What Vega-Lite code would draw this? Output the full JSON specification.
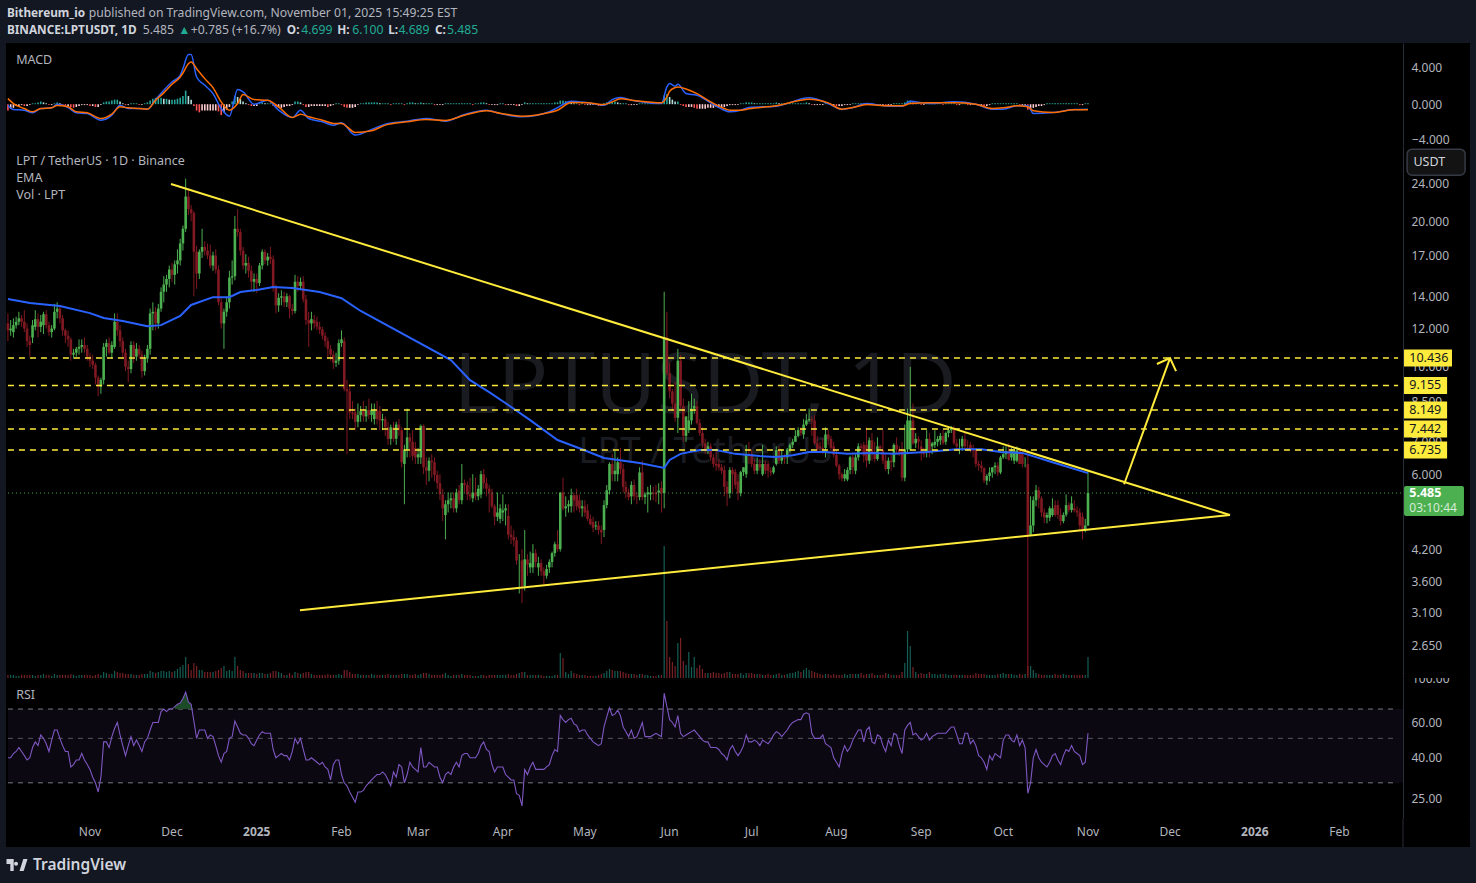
{
"$schema":"https://vega.github.io/schema/vega-lite/v6.json",
"background":"#131722",
"padding":{"left":3,"right":6,"top":0,"bottom":0},
"spacing":0,
"bounds":"flush",
"config":{"view":{"stroke":null},"font":"Noto Sans","axis":{"grid":false,"labelFont":"Noto Sans","labelFontSize":12,"labelColor":"#b2b5be","ticks":false,"title":null},"text":{"font":"Noto Sans","fontSize":12}},
"datasets":{
"daily":[
{"d":"2024-10-02","o":12.3,"h":12.9,"l":11.3,"c":11.9,"v":3,"b":-0.7,"r":40},
{"d":"2024-10-03","o":11.9,"h":12.5,"l":11.6,"c":12.0,"v":3,"b":-0.5,"r":40},
{"d":"2024-10-04","o":11.8,"h":12.6,"l":11.5,"c":12.2,"v":3,"b":-0.4,"r":42},
{"d":"2024-10-05","o":12.2,"h":12.7,"l":12.0,"c":12.4,"v":2,"b":-0.2,"r":43},
{"d":"2024-10-06","o":12.4,"h":13.0,"l":12.2,"c":12.6,"v":2,"b":-0.2,"r":45},
{"d":"2024-10-07","o":12.6,"h":12.8,"l":12.1,"c":12.4,"v":3,"b":-0.1,"r":43},
{"d":"2024-10-08","o":12.4,"h":13.1,"l":11.8,"c":12.0,"v":3,"b":-0.2,"r":41},
{"d":"2024-10-09","o":12.0,"h":12.3,"l":11.0,"c":11.3,"v":3,"b":-0.2,"r":39},
{"d":"2024-10-10","o":11.3,"h":11.6,"l":10.5,"c":11.1,"v":3,"b":-0.1,"r":40},
{"d":"2024-10-11","o":11.5,"h":12.5,"l":11.2,"c":12.2,"v":3,"b":0.1,"r":45},
{"d":"2024-10-12","o":12.1,"h":13.1,"l":11.9,"c":12.55,"v":2,"b":0.1,"r":48},
{"d":"2024-10-13","o":12.55,"h":12.9,"l":11.5,"c":12.1,"v":3,"b":0.2,"r":46},
{"d":"2024-10-14","o":12.1,"h":12.8,"l":11.8,"c":12.4,"v":3,"b":0.3,"r":52},
{"d":"2024-10-15","o":12.2,"h":13.0,"l":11.7,"c":12.85,"v":4,"b":0.2,"r":50},
{"d":"2024-10-16","o":12.85,"h":13.1,"l":12.0,"c":12.2,"v":3,"b":0.1,"r":47},
{"d":"2024-10-17","o":12.2,"h":12.4,"l":11.6,"c":11.8,"v":3,"b":-0.1,"r":43},
{"d":"2024-10-18","o":11.8,"h":12.2,"l":11.5,"c":12.0,"v":2,"b":-0.1,"r":49},
{"d":"2024-10-19","o":12.0,"h":13.5,"l":11.9,"c":13.0,"v":4,"b":0.1,"r":55},
{"d":"2024-10-20","o":13.0,"h":13.6,"l":12.6,"c":13.2,"v":3,"b":0.2,"r":55},
{"d":"2024-10-21","o":13.2,"h":13.4,"l":12.3,"c":12.6,"v":3,"b":0.1,"r":50},
{"d":"2024-10-22","o":12.6,"h":12.8,"l":11.6,"c":11.9,"v":3,"b":-0.1,"r":46},
{"d":"2024-10-23","o":11.9,"h":12.0,"l":11.2,"c":11.6,"v":3,"b":-0.2,"r":43},
{"d":"2024-10-24","o":11.6,"h":11.9,"l":11.0,"c":11.4,"v":3,"b":-0.2,"r":43},
{"d":"2024-10-25","o":11.4,"h":11.5,"l":10.3,"c":10.6,"v":4,"b":-0.3,"r":36},
{"d":"2024-10-26","o":10.6,"h":10.9,"l":10.4,"c":10.7,"v":3,"b":-0.4,"r":37},
{"d":"2024-10-27","o":10.7,"h":11.0,"l":10.5,"c":10.9,"v":2,"b":-0.3,"r":39},
{"d":"2024-10-28","o":10.9,"h":11.4,"l":10.6,"c":11.0,"v":3,"b":-0.2,"r":39},
{"d":"2024-10-29","o":11.0,"h":11.4,"l":10.7,"c":11.1,"v":3,"b":-0.1,"r":42},
{"d":"2024-10-30","o":11.1,"h":11.5,"l":10.7,"c":10.9,"v":3,"b":-0.1,"r":39},
{"d":"2024-10-31","o":10.9,"h":11.1,"l":10.3,"c":10.5,"v":3,"b":-0.1,"r":37},
{"d":"2024-11-01","o":10.5,"h":10.7,"l":10.0,"c":10.3,"v":3,"b":-0.2,"r":35},
{"d":"2024-11-02","o":10.3,"h":10.6,"l":9.9,"c":10.1,"v":2,"b":-0.2,"r":32},
{"d":"2024-11-03","o":10.1,"h":10.2,"l":9.2,"c":9.5,"v":3,"b":-0.3,"r":30},
{"d":"2024-11-04","o":9.5,"h":9.6,"l":8.7,"c":9.1,"v":4,"b":-0.3,"r":27},
{"d":"2024-11-05","o":9.1,"h":9.5,"l":8.8,"c":9.4,"v":3,"b":-0.1,"r":32},
{"d":"2024-11-06","o":9.4,"h":11.2,"l":9.2,"c":11.0,"v":6,"b":0.2,"r":48},
{"d":"2024-11-07","o":11.0,"h":11.4,"l":10.5,"c":11.2,"v":5,"b":0.3,"r":48},
{"d":"2024-11-08","o":11.2,"h":11.5,"l":10.6,"c":10.7,"v":4,"b":0.3,"r":45},
{"d":"2024-11-09","o":10.7,"h":11.3,"l":10.4,"c":11.1,"v":4,"b":0.4,"r":51},
{"d":"2024-11-10","o":11.0,"h":12.9,"l":10.9,"c":12.4,"v":7,"b":0.5,"r":56},
{"d":"2024-11-11","o":12.4,"h":12.9,"l":11.6,"c":11.9,"v":6,"b":0.5,"r":60},
{"d":"2024-11-12","o":11.9,"h":12.2,"l":11.0,"c":11.3,"v":5,"b":0.3,"r":52},
{"d":"2024-11-13","o":11.3,"h":11.5,"l":10.4,"c":10.7,"v":5,"b":0.1,"r":46},
{"d":"2024-11-14","o":10.7,"h":10.9,"l":9.8,"c":10.0,"v":4,"b":-0.1,"r":41},
{"d":"2024-11-15","o":10.0,"h":10.3,"l":9.3,"c":9.9,"v":4,"b":-0.1,"r":46},
{"d":"2024-11-16","o":9.9,"h":11.3,"l":9.7,"c":11.1,"v":4,"b":0.1,"r":51},
{"d":"2024-11-17","o":11.1,"h":11.3,"l":10.2,"c":10.5,"v":3,"b":0.1,"r":46},
{"d":"2024-11-18","o":10.5,"h":11.2,"l":10.3,"c":10.9,"v":3,"b":0.1,"r":49},
{"d":"2024-11-19","o":10.9,"h":11.1,"l":10.4,"c":10.6,"v":3,"b":-0.1,"r":46},
{"d":"2024-11-20","o":10.6,"h":10.8,"l":9.5,"c":9.8,"v":4,"b":-0.1,"r":43},
{"d":"2024-11-21","o":9.8,"h":10.6,"l":9.6,"c":10.4,"v":4,"b":0.1,"r":48},
{"d":"2024-11-22","o":10.4,"h":11.1,"l":10.2,"c":10.9,"v":4,"b":0.2,"r":50},
{"d":"2024-11-23","o":10.9,"h":13.2,"l":10.6,"c":12.9,"v":7,"b":0.4,"r":55},
{"d":"2024-11-24","o":12.9,"h":13.6,"l":11.9,"c":13.0,"v":6,"b":0.6,"r":60},
{"d":"2024-11-25","o":13.0,"h":13.3,"l":11.9,"c":12.3,"v":5,"b":0.7,"r":60},
{"d":"2024-11-26","o":12.3,"h":13.5,"l":12.0,"c":13.2,"v":6,"b":0.7,"r":60},
{"d":"2024-11-27","o":13.2,"h":14.6,"l":13.0,"c":14.3,"v":7,"b":0.7,"r":68},
{"d":"2024-11-28","o":14.3,"h":15.4,"l":13.6,"c":14.8,"v":7,"b":0.6,"r":70},
{"d":"2024-11-29","o":14.8,"h":15.5,"l":14.3,"c":15.2,"v":6,"b":0.6,"r":68},
{"d":"2024-11-30","o":15.2,"h":16.2,"l":14.6,"c":15.9,"v":7,"b":0.5,"r":70},
{"d":"2024-12-01","o":15.9,"h":16.4,"l":15.0,"c":15.5,"v":6,"b":0.5,"r":70},
{"d":"2024-12-02","o":15.5,"h":16.6,"l":14.8,"c":16.3,"v":7,"b":0.5,"r":72},
{"d":"2024-12-03","o":16.3,"h":17.5,"l":15.6,"c":16.6,"v":9,"b":0.6,"r":74},
{"d":"2024-12-04","o":16.6,"h":18.4,"l":16.2,"c":18.0,"v":11,"b":0.7,"r":75},
{"d":"2024-12-05","o":18.0,"h":19.6,"l":17.4,"c":19.3,"v":13,"b":0.9,"r":79},
{"d":"2024-12-06","o":19.3,"h":24.5,"l":19.0,"c":22.5,"v":21,"b":1.5,"r":85},
{"d":"2024-12-07","o":22.5,"h":23.2,"l":20.6,"c":21.2,"v":14,"b":0.9,"r":76},
{"d":"2024-12-08","o":21.2,"h":21.6,"l":20.0,"c":20.8,"v":8,"b":0.5,"r":74},
{"d":"2024-12-09","o":20.8,"h":21.0,"l":14.0,"c":17.3,"v":15,"b":-0.2,"r":61},
{"d":"2024-12-10","o":17.3,"h":17.8,"l":14.5,"c":15.6,"v":12,"b":-0.7,"r":50},
{"d":"2024-12-11","o":15.6,"h":17.5,"l":15.2,"c":17.3,"v":8,"b":-0.9,"r":55},
{"d":"2024-12-12","o":17.3,"h":19.3,"l":16.8,"c":17.7,"v":8,"b":-0.7,"r":55},
{"d":"2024-12-13","o":17.7,"h":18.2,"l":17.0,"c":17.4,"v":6,"b":-0.7,"r":55},
{"d":"2024-12-14","o":17.4,"h":18.0,"l":16.7,"c":17.0,"v":6,"b":-0.7,"r":50},
{"d":"2024-12-15","o":17.0,"h":17.9,"l":16.0,"c":16.2,"v":6,"b":-0.7,"r":52},
{"d":"2024-12-16","o":16.2,"h":17.3,"l":15.8,"c":17.0,"v":6,"b":-0.7,"r":51},
{"d":"2024-12-17","o":17.0,"h":17.5,"l":15.6,"c":15.9,"v":7,"b":-0.7,"r":46},
{"d":"2024-12-18","o":15.9,"h":16.2,"l":13.4,"c":13.6,"v":8,"b":-0.8,"r":41},
{"d":"2024-12-19","o":13.6,"h":13.9,"l":12.0,"c":12.3,"v":10,"b":-1.2,"r":38},
{"d":"2024-12-20","o":12.3,"h":13.2,"l":10.9,"c":13.0,"v":12,"b":-0.9,"r":42},
{"d":"2024-12-21","o":13.0,"h":14.0,"l":12.7,"c":13.6,"v":7,"b":-0.6,"r":43},
{"d":"2024-12-22","o":13.6,"h":15.8,"l":13.2,"c":15.3,"v":8,"b":-0.3,"r":50},
{"d":"2024-12-23","o":15.3,"h":16.6,"l":14.8,"c":15.4,"v":7,"b":0.3,"r":51},
{"d":"2024-12-24","o":15.4,"h":20.5,"l":15.1,"c":19.3,"v":21,"b":0.9,"r":61},
{"d":"2024-12-25","o":19.3,"h":21.2,"l":18.6,"c":19.0,"v":12,"b":0.8,"r":57},
{"d":"2024-12-26","o":19.0,"h":19.3,"l":17.0,"c":17.4,"v":8,"b":0.6,"r":53},
{"d":"2024-12-27","o":17.4,"h":17.7,"l":15.9,"c":16.2,"v":7,"b":0.3,"r":52},
{"d":"2024-12-28","o":16.2,"h":17.1,"l":15.6,"c":16.4,"v":5,"b":0.1,"r":52},
{"d":"2024-12-29","o":16.4,"h":16.9,"l":15.3,"c":15.8,"v":5,"b":-0.1,"r":50},
{"d":"2024-12-30","o":15.8,"h":16.2,"l":14.4,"c":15.0,"v":5,"b":-0.2,"r":47},
{"d":"2024-12-31","o":15.0,"h":15.6,"l":14.3,"c":15.2,"v":5,"b":-0.2,"r":46},
{"d":"2025-01-01","o":15.2,"h":15.6,"l":14.2,"c":14.9,"v":4,"b":-0.2,"r":49},
{"d":"2025-01-02","o":14.9,"h":16.4,"l":14.7,"c":16.2,"v":5,"b":0.1,"r":52},
{"d":"2025-01-03","o":16.2,"h":17.5,"l":15.9,"c":17.3,"v":5,"b":0.2,"r":54},
{"d":"2025-01-04","o":17.3,"h":17.5,"l":16.3,"c":16.6,"v":4,"b":0.1,"r":53},
{"d":"2025-01-05","o":16.6,"h":17.2,"l":16.2,"c":16.9,"v":4,"b":0.1,"r":53},
{"d":"2025-01-06","o":16.9,"h":17.7,"l":16.3,"c":16.7,"v":5,"b":0.1,"r":53},
{"d":"2025-01-07","o":16.7,"h":17.0,"l":14.3,"c":14.6,"v":7,"b":-0.2,"r":44},
{"d":"2025-01-08","o":14.6,"h":14.8,"l":12.9,"c":13.4,"v":7,"b":-0.4,"r":40},
{"d":"2025-01-09","o":13.4,"h":14.2,"l":13.0,"c":13.9,"v":6,"b":-0.4,"r":41},
{"d":"2025-01-10","o":13.9,"h":14.4,"l":13.4,"c":14.0,"v":5,"b":-0.4,"r":42},
{"d":"2025-01-11","o":14.0,"h":14.3,"l":13.3,"c":13.6,"v":3,"b":-0.3,"r":41},
{"d":"2025-01-12","o":13.6,"h":14.2,"l":13.3,"c":14.0,"v":3,"b":-0.2,"r":41},
{"d":"2025-01-13","o":14.0,"h":14.1,"l":12.6,"c":13.2,"v":5,"b":-0.2,"r":39},
{"d":"2025-01-14","o":13.2,"h":13.5,"l":12.8,"c":13.05,"v":3,"b":-0.1,"r":43},
{"d":"2025-01-15","o":13.05,"h":15.5,"l":12.9,"c":15.0,"v":6,"b":0.3,"r":50},
{"d":"2025-01-16","o":15.0,"h":15.4,"l":14.3,"c":14.7,"v":5,"b":0.3,"r":47},
{"d":"2025-01-17","o":14.7,"h":15.3,"l":14.4,"c":15.0,"v":4,"b":0.2,"r":50},
{"d":"2025-01-18","o":15.0,"h":15.4,"l":13.6,"c":13.8,"v":5,"b":-0.1,"r":44},
{"d":"2025-01-19","o":13.8,"h":14.1,"l":12.2,"c":12.5,"v":6,"b":-0.3,"r":39},
{"d":"2025-01-20","o":12.5,"h":13.0,"l":11.0,"c":12.3,"v":6,"b":-0.3,"r":39},
{"d":"2025-01-21","o":12.3,"h":13.0,"l":11.9,"c":12.55,"v":4,"b":-0.2,"r":40},
{"d":"2025-01-22","o":12.5,"h":12.8,"l":12.0,"c":12.3,"v":3,"b":-0.2,"r":39},
{"d":"2025-01-23","o":12.4,"h":12.7,"l":11.9,"c":12.1,"v":3,"b":-0.2,"r":38},
{"d":"2025-01-24","o":12.1,"h":12.4,"l":11.7,"c":11.95,"v":3,"b":-0.2,"r":37},
{"d":"2025-01-25","o":11.95,"h":12.1,"l":11.4,"c":11.6,"v":3,"b":-0.2,"r":38},
{"d":"2025-01-26","o":11.6,"h":11.8,"l":11.0,"c":11.3,"v":3,"b":-0.2,"r":36},
{"d":"2025-01-27","o":11.3,"h":11.5,"l":10.4,"c":10.9,"v":4,"b":-0.3,"r":35},
{"d":"2025-01-28","o":10.9,"h":11.1,"l":10.3,"c":10.6,"v":3,"b":-0.2,"r":31},
{"d":"2025-01-29","o":10.6,"h":10.8,"l":9.9,"c":10.2,"v":3,"b":-0.1,"r":37},
{"d":"2025-01-30","o":10.2,"h":10.7,"l":10.0,"c":10.3,"v":3,"b":0.1,"r":39},
{"d":"2025-01-31","o":10.3,"h":11.4,"l":10.1,"c":11.2,"v":4,"b":0.1,"r":39},
{"d":"2025-02-01","o":11.2,"h":11.9,"l":11.0,"c":11.4,"v":3,"b":-0.1,"r":33},
{"d":"2025-02-02","o":11.3,"h":11.5,"l":8.9,"c":9.0,"v":8,"b":-0.3,"r":30},
{"d":"2025-02-03","o":9.0,"h":9.4,"l":6.6,"c":8.9,"v":8,"b":-0.4,"r":29},
{"d":"2025-02-04","o":8.9,"h":9.2,"l":7.8,"c":8.05,"v":6,"b":-0.4,"r":27},
{"d":"2025-02-05","o":8.05,"h":8.5,"l":7.8,"c":8.0,"v":4,"b":-0.4,"r":25.5},
{"d":"2025-02-06","o":8.05,"h":8.2,"l":7.4,"c":7.7,"v":4,"b":-0.3,"r":24},
{"d":"2025-02-07","o":7.7,"h":8.4,"l":7.5,"c":7.95,"v":4,"b":-0.1,"r":27},
{"d":"2025-02-08","o":7.95,"h":8.3,"l":7.7,"c":8.1,"v":3,"b":0.1,"r":27},
{"d":"2025-02-09","o":8.1,"h":8.5,"l":7.7,"c":7.9,"v":3,"b":0.1,"r":27.5},
{"d":"2025-02-10","o":7.9,"h":8.3,"l":7.7,"c":8.15,"v":3,"b":0.2,"r":29},
{"d":"2025-02-11","o":8.15,"h":8.6,"l":7.8,"c":7.95,"v":3,"b":0.2,"r":30},
{"d":"2025-02-12","o":7.95,"h":8.4,"l":7.7,"c":8.15,"v":4,"b":0.2,"r":31},
{"d":"2025-02-13","o":7.8,"h":8.4,"l":7.6,"c":8.15,"v":3,"b":0.2,"r":32},
{"d":"2025-02-14","o":8.15,"h":8.5,"l":7.6,"c":7.8,"v":3,"b":0.2,"r":33},
{"d":"2025-02-15","o":8.1,"h":8.3,"l":7.4,"c":7.75,"v":3,"b":0.1,"r":33},
{"d":"2025-02-16","o":7.75,"h":8.0,"l":7.4,"c":7.8,"v":3,"b":0.1,"r":34},
{"d":"2025-02-17","o":7.8,"h":7.9,"l":7.2,"c":7.5,"v":3,"b":0.1,"r":33},
{"d":"2025-02-18","o":7.5,"h":7.7,"l":6.9,"c":7.1,"v":4,"b":0.1,"r":31},
{"d":"2025-02-19","o":7.1,"h":7.6,"l":6.9,"c":7.5,"v":3,"b":-0.1,"r":29},
{"d":"2025-02-20","o":7.5,"h":7.7,"l":7.0,"c":7.1,"v":3,"b":0.1,"r":34},
{"d":"2025-02-21","o":7.1,"h":7.7,"l":6.9,"c":7.6,"v":3,"b":0.1,"r":32},
{"d":"2025-02-22","o":7.6,"h":7.8,"l":7.2,"c":7.4,"v":3,"b":0.1,"r":37},
{"d":"2025-02-23","o":7.4,"h":7.5,"l":6.2,"c":6.35,"v":4,"b":0.1,"r":36},
{"d":"2025-02-24","o":6.3,"h":6.9,"l":5.2,"c":6.75,"v":4,"b":-0.1,"r":30},
{"d":"2025-02-25","o":6.75,"h":8.2,"l":6.5,"c":7.15,"v":4,"b":0.1,"r":33},
{"d":"2025-02-26","o":7.15,"h":7.3,"l":6.5,"c":7.0,"v":3,"b":0.2,"r":38},
{"d":"2025-02-27","o":7.0,"h":7.4,"l":6.4,"c":6.55,"v":3,"b":0.2,"r":36},
{"d":"2025-02-28","o":6.8,"h":7.0,"l":6.3,"c":6.5,"v":4,"b":0.1,"r":35},
{"d":"2025-03-01","o":6.5,"h":6.8,"l":6.3,"c":6.6,"v":3,"b":0.1,"r":34},
{"d":"2025-03-02","o":6.5,"h":7.6,"l":6.3,"c":7.55,"v":4,"b":0.2,"r":45},
{"d":"2025-03-03","o":7.55,"h":7.6,"l":6.0,"c":6.2,"v":5,"b":0.1,"r":36},
{"d":"2025-03-04","o":6.2,"h":6.5,"l":5.7,"c":6.1,"v":5,"b":0.1,"r":36},
{"d":"2025-03-05","o":6.1,"h":6.5,"l":5.8,"c":6.4,"v":4,"b":0.1,"r":38},
{"d":"2025-03-06","o":6.4,"h":6.6,"l":5.9,"c":6.35,"v":3,"b":0.1,"r":37},
{"d":"2025-03-07","o":6.35,"h":6.5,"l":5.8,"c":5.98,"v":3,"b":-0.1,"r":36},
{"d":"2025-03-08","o":5.98,"h":6.1,"l":5.6,"c":5.75,"v":3,"b":-0.1,"r":36},
{"d":"2025-03-09","o":5.75,"h":6.0,"l":5.3,"c":5.45,"v":3,"b":-0.1,"r":32},
{"d":"2025-03-10","o":5.45,"h":5.6,"l":4.8,"c":5.1,"v":4,"b":-0.1,"r":30},
{"d":"2025-03-11","o":4.94,"h":5.3,"l":4.4,"c":5.2,"v":5,"b":0.1,"r":33},
{"d":"2025-03-12","o":5.2,"h":5.5,"l":5.0,"c":5.3,"v":3,"b":0.1,"r":34},
{"d":"2025-03-13","o":5.3,"h":5.5,"l":5.1,"c":5.35,"v":2,"b":0.1,"r":33},
{"d":"2025-03-14","o":5.35,"h":5.5,"l":5.0,"c":5.1,"v":3,"b":0.1,"r":36},
{"d":"2025-03-15","o":5.1,"h":5.6,"l":5.0,"c":5.5,"v":3,"b":0.1,"r":38},
{"d":"2025-03-16","o":5.55,"h":5.7,"l":5.2,"c":5.3,"v":3,"b":0.1,"r":36},
{"d":"2025-03-17","o":5.3,"h":6.3,"l":5.2,"c":5.75,"v":4,"b":0.1,"r":41},
{"d":"2025-03-18","o":5.75,"h":5.85,"l":5.5,"c":5.7,"v":3,"b":0.1,"r":42},
{"d":"2025-03-19","o":5.7,"h":5.8,"l":5.3,"c":5.45,"v":3,"b":0.1,"r":42},
{"d":"2025-03-20","o":5.45,"h":5.9,"l":5.3,"c":5.4,"v":3,"b":0.1,"r":40},
{"d":"2025-03-21","o":5.35,"h":6.0,"l":5.25,"c":5.5,"v":2,"b":-0.1,"r":40},
{"d":"2025-03-22","o":5.5,"h":5.9,"l":5.3,"c":5.4,"v":2,"b":0.1,"r":40},
{"d":"2025-03-23","o":5.4,"h":5.7,"l":5.3,"c":5.6,"v":2,"b":0.1,"r":42},
{"d":"2025-03-24","o":5.45,"h":6.1,"l":5.35,"c":6.0,"v":3,"b":0.2,"r":46},
{"d":"2025-03-25","o":6.0,"h":6.15,"l":5.6,"c":5.75,"v":3,"b":0.2,"r":48},
{"d":"2025-03-26","o":5.75,"h":5.9,"l":5.4,"c":5.6,"v":2,"b":0.1,"r":44},
{"d":"2025-03-27","o":5.6,"h":5.7,"l":5.0,"c":5.5,"v":3,"b":-0.1,"r":43},
{"d":"2025-03-28","o":5.5,"h":5.6,"l":5.1,"c":5.15,"v":3,"b":-0.1,"r":37},
{"d":"2025-03-29","o":5.15,"h":5.2,"l":4.7,"c":4.9,"v":3,"b":-0.1,"r":34},
{"d":"2025-03-30","o":4.9,"h":5.5,"l":4.8,"c":5.0,"v":3,"b":-0.1,"r":36},
{"d":"2025-03-31","o":4.85,"h":5.2,"l":4.75,"c":5.1,"v":3,"b":0.1,"r":36},
{"d":"2025-04-01","o":5.0,"h":5.45,"l":4.8,"c":5.05,"v":3,"b":0.1,"r":36},
{"d":"2025-04-02","o":5.05,"h":5.2,"l":4.7,"c":5.1,"v":3,"b":-0.1,"r":33},
{"d":"2025-04-03","o":4.92,"h":5.2,"l":4.4,"c":4.5,"v":4,"b":-0.1,"r":32},
{"d":"2025-04-04","o":4.5,"h":4.7,"l":4.3,"c":4.45,"v":3,"b":-0.1,"r":31},
{"d":"2025-04-05","o":4.45,"h":4.6,"l":4.25,"c":4.38,"v":3,"b":-0.1,"r":31},
{"d":"2025-04-06","o":4.38,"h":4.45,"l":3.9,"c":3.98,"v":4,"b":-0.2,"r":26.5},
{"d":"2025-04-07","o":3.98,"h":4.1,"l":3.4,"c":3.98,"v":5,"b":-0.2,"r":26},
{"d":"2025-04-08","o":3.98,"h":4.2,"l":3.25,"c":3.52,"v":6,"b":-0.1,"r":23},
{"d":"2025-04-09","o":3.52,"h":4.6,"l":3.45,"c":4.0,"v":6,"b":0.2,"r":35},
{"d":"2025-04-10","o":4.0,"h":4.1,"l":3.7,"c":3.9,"v":3,"b":0.1,"r":33},
{"d":"2025-04-11","o":3.85,"h":4.15,"l":3.75,"c":3.93,"v":3,"b":0.1,"r":36},
{"d":"2025-04-12","o":3.85,"h":4.3,"l":3.75,"c":4.12,"v":3,"b":0.1,"r":38},
{"d":"2025-04-13","o":4.12,"h":4.2,"l":3.85,"c":3.95,"v":3,"b":0.1,"r":35},
{"d":"2025-04-14","o":3.85,"h":4.05,"l":3.7,"c":3.93,"v":3,"b":0.1,"r":35},
{"d":"2025-04-15","o":3.93,"h":4.0,"l":3.7,"c":3.78,"v":3,"b":0.1,"r":35},
{"d":"2025-04-16","o":3.78,"h":3.85,"l":3.55,"c":3.7,"v":2,"b":0.1,"r":35},
{"d":"2025-04-17","o":3.7,"h":3.9,"l":3.65,"c":3.82,"v":2,"b":0.1,"r":36},
{"d":"2025-04-18","o":3.85,"h":4.0,"l":3.75,"c":3.95,"v":2,"b":0.1,"r":37},
{"d":"2025-04-19","o":3.95,"h":4.15,"l":3.85,"c":4.12,"v":2,"b":0.1,"r":41},
{"d":"2025-04-20","o":4.12,"h":4.35,"l":4.05,"c":4.3,"v":3,"b":0.2,"r":44},
{"d":"2025-04-21","o":4.3,"h":4.6,"l":4.15,"c":4.2,"v":3,"b":0.2,"r":43},
{"d":"2025-04-22","o":4.2,"h":5.5,"l":4.15,"c":5.5,"v":25,"b":0.4,"r":65},
{"d":"2025-04-23","o":5.5,"h":5.9,"l":5.05,"c":5.1,"v":20,"b":0.4,"r":62},
{"d":"2025-04-24","o":5.1,"h":5.4,"l":4.9,"c":5.15,"v":6,"b":0.3,"r":60},
{"d":"2025-04-25","o":5.15,"h":5.3,"l":5.0,"c":5.2,"v":4,"b":0.3,"r":62},
{"d":"2025-04-26","o":5.15,"h":5.6,"l":5.0,"c":5.43,"v":7,"b":0.2,"r":63},
{"d":"2025-04-27","o":5.43,"h":5.5,"l":5.0,"c":5.3,"v":5,"b":0.1,"r":59},
{"d":"2025-04-28","o":5.43,"h":5.6,"l":5.05,"c":5.15,"v":4,"b":0.1,"r":58},
{"d":"2025-04-29","o":5.3,"h":5.45,"l":5.0,"c":5.1,"v":3,"b":-0.1,"r":54},
{"d":"2025-04-30","o":5.1,"h":5.3,"l":4.9,"c":5.15,"v":3,"b":0.1,"r":55},
{"d":"2025-05-01","o":5.15,"h":5.3,"l":4.9,"c":5.0,"v":3,"b":-0.1,"r":55},
{"d":"2025-05-02","o":5.05,"h":5.2,"l":4.8,"c":4.85,"v":2,"b":-0.1,"r":52},
{"d":"2025-05-03","o":4.85,"h":4.95,"l":4.7,"c":4.73,"v":2,"b":-0.1,"r":50},
{"d":"2025-05-04","o":4.78,"h":4.9,"l":4.55,"c":4.65,"v":2,"b":-0.1,"r":48},
{"d":"2025-05-05","o":4.68,"h":4.8,"l":4.6,"c":4.7,"v":2,"b":-0.1,"r":47},
{"d":"2025-05-06","o":4.7,"h":4.8,"l":4.5,"c":4.6,"v":3,"b":-0.2,"r":46},
{"d":"2025-05-07","o":4.6,"h":4.7,"l":4.3,"c":4.55,"v":4,"b":-0.2,"r":47},
{"d":"2025-05-08","o":4.6,"h":5.3,"l":4.45,"c":5.18,"v":5,"b":0.1,"r":57},
{"d":"2025-05-09","o":5.18,"h":5.7,"l":5.1,"c":5.56,"v":7,"b":0.2,"r":64},
{"d":"2025-05-10","o":5.56,"h":6.35,"l":5.45,"c":6.3,"v":9,"b":0.3,"r":71},
{"d":"2025-05-11","o":6.3,"h":6.6,"l":5.8,"c":6.0,"v":8,"b":0.3,"r":65},
{"d":"2025-05-12","o":6.0,"h":6.7,"l":5.8,"c":6.1,"v":7,"b":0.3,"r":66},
{"d":"2025-05-13","o":6.0,"h":6.5,"l":5.8,"c":6.35,"v":7,"b":0.2,"r":69},
{"d":"2025-05-14","o":6.35,"h":6.8,"l":6.0,"c":6.15,"v":7,"b":0.1,"r":65},
{"d":"2025-05-15","o":6.15,"h":6.3,"l":5.5,"c":5.65,"v":6,"b":0.1,"r":57},
{"d":"2025-05-16","o":5.65,"h":5.8,"l":5.35,"c":5.5,"v":5,"b":0.1,"r":54},
{"d":"2025-05-17","o":5.5,"h":5.6,"l":5.3,"c":5.38,"v":4,"b":-0.1,"r":51},
{"d":"2025-05-18","o":5.4,"h":5.8,"l":5.2,"c":5.7,"v":4,"b":-0.1,"r":55},
{"d":"2025-05-19","o":5.7,"h":5.85,"l":5.3,"c":5.4,"v":4,"b":-0.1,"r":50},
{"d":"2025-05-20","o":5.4,"h":5.5,"l":5.2,"c":5.38,"v":3,"b":-0.1,"r":51},
{"d":"2025-05-21","o":5.38,"h":6.2,"l":5.3,"c":6.05,"v":4,"b":0.1,"r":55},
{"d":"2025-05-22","o":6.05,"h":6.4,"l":5.3,"c":5.38,"v":4,"b":0.1,"r":60},
{"d":"2025-05-23","o":5.38,"h":5.5,"l":5.2,"c":5.45,"v":3,"b":0.1,"r":51},
{"d":"2025-05-24","o":5.45,"h":5.65,"l":5.0,"c":5.5,"v":3,"b":0.1,"r":51},
{"d":"2025-05-25","o":5.45,"h":5.7,"l":5.3,"c":5.5,"v":2,"b":0.1,"r":51},
{"d":"2025-05-26","o":5.5,"h":5.65,"l":5.3,"c":5.48,"v":2,"b":0.1,"r":52},
{"d":"2025-05-27","o":5.5,"h":5.7,"l":5.25,"c":5.45,"v":2,"b":0.1,"r":53},
{"d":"2025-05-28","o":5.5,"h":5.75,"l":5.2,"c":5.55,"v":3,"b":0.1,"r":52},
{"d":"2025-05-29","o":5.62,"h":5.8,"l":5.0,"c":5.48,"v":3,"b":0.1,"r":51},
{"d":"2025-05-30","o":5.48,"h":14.3,"l":5.1,"c":11.5,"v":132,"b":1.0,"r":84},
{"d":"2025-05-31","o":11.5,"h":13.0,"l":9.6,"c":9.7,"v":57,"b":1.1,"r":72},
{"d":"2025-06-01","o":9.7,"h":10.2,"l":8.6,"c":8.9,"v":21,"b":0.8,"r":62},
{"d":"2025-06-02","o":8.9,"h":9.0,"l":8.1,"c":8.4,"v":16,"b":0.5,"r":60},
{"d":"2025-06-03","o":8.4,"h":9.3,"l":7.7,"c":7.85,"v":12,"b":0.3,"r":57},
{"d":"2025-06-04","o":7.85,"h":10.9,"l":7.3,"c":10.3,"v":35,"b":0.3,"r":65},
{"d":"2025-06-05","o":10.3,"h":10.6,"l":8.2,"c":8.3,"v":40,"b":-0.1,"r":53},
{"d":"2025-06-06","o":8.3,"h":8.6,"l":7.0,"c":7.2,"v":17,"b":-0.2,"r":51},
{"d":"2025-06-07","o":7.2,"h":7.9,"l":7.0,"c":7.9,"v":13,"b":-0.3,"r":52},
{"d":"2025-06-08","o":7.4,"h":8.5,"l":7.3,"c":7.75,"v":26,"b":-0.3,"r":53},
{"d":"2025-06-09","o":7.75,"h":8.8,"l":7.6,"c":8.2,"v":11,"b":-0.3,"r":54},
{"d":"2025-06-10","o":8.2,"h":8.6,"l":8.0,"c":8.3,"v":21,"b":-0.4,"r":55},
{"d":"2025-06-11","o":8.3,"h":8.5,"l":7.6,"c":7.65,"v":10,"b":-0.5,"r":53},
{"d":"2025-06-12","o":7.65,"h":7.8,"l":7.2,"c":7.3,"v":13,"b":-0.5,"r":51},
{"d":"2025-06-13","o":7.3,"h":7.5,"l":6.8,"c":6.95,"v":9,"b":-0.5,"r":49},
{"d":"2025-06-14","o":6.95,"h":7.1,"l":6.6,"c":6.75,"v":5,"b":-0.5,"r":48},
{"d":"2025-06-15","o":6.75,"h":7.0,"l":6.6,"c":6.85,"v":5,"b":-0.4,"r":48},
{"d":"2025-06-16","o":6.85,"h":6.95,"l":6.4,"c":6.5,"v":5,"b":-0.4,"r":45},
{"d":"2025-06-17","o":6.5,"h":6.6,"l":6.2,"c":6.3,"v":6,"b":-0.4,"r":45},
{"d":"2025-06-18","o":6.3,"h":6.7,"l":6.1,"c":6.25,"v":5,"b":-0.3,"r":45},
{"d":"2025-06-19","o":6.3,"h":6.45,"l":6.1,"c":6.2,"v":5,"b":-0.3,"r":44},
{"d":"2025-06-20","o":6.2,"h":6.3,"l":6.0,"c":6.1,"v":4,"b":-0.3,"r":42},
{"d":"2025-06-21","o":6.12,"h":6.25,"l":5.4,"c":5.65,"v":5,"b":-0.3,"r":41},
{"d":"2025-06-22","o":5.65,"h":5.8,"l":5.15,"c":5.48,"v":6,"b":-0.2,"r":39},
{"d":"2025-06-23","o":5.48,"h":6.2,"l":5.35,"c":6.12,"v":6,"b":-0.1,"r":44},
{"d":"2025-06-24","o":6.12,"h":6.2,"l":5.5,"c":6.0,"v":4,"b":-0.1,"r":46},
{"d":"2025-06-25","o":6.06,"h":6.15,"l":5.6,"c":5.7,"v":4,"b":-0.1,"r":43},
{"d":"2025-06-26","o":5.8,"h":6.0,"l":5.3,"c":5.48,"v":4,"b":-0.1,"r":41},
{"d":"2025-06-27","o":5.48,"h":6.1,"l":5.4,"c":6.06,"v":5,"b":0.1,"r":43},
{"d":"2025-06-28","o":6.06,"h":6.2,"l":5.95,"c":6.2,"v":3,"b":0.1,"r":46},
{"d":"2025-06-29","o":6.0,"h":6.9,"l":5.9,"c":6.6,"v":5,"b":0.2,"r":52},
{"d":"2025-06-30","o":6.6,"h":7.0,"l":6.3,"c":6.55,"v":5,"b":0.2,"r":48},
{"d":"2025-07-01","o":6.6,"h":6.75,"l":6.2,"c":6.3,"v":5,"b":0.2,"r":48},
{"d":"2025-07-02","o":6.3,"h":6.45,"l":6.0,"c":6.1,"v":4,"b":0.1,"r":49},
{"d":"2025-07-03","o":6.1,"h":6.5,"l":6.0,"c":6.3,"v":4,"b":0.1,"r":48},
{"d":"2025-07-04","o":6.3,"h":6.45,"l":6.1,"c":6.2,"v":4,"b":0.1,"r":46},
{"d":"2025-07-05","o":6.0,"h":6.9,"l":5.95,"c":6.3,"v":3,"b":0.1,"r":49},
{"d":"2025-07-06","o":6.3,"h":6.4,"l":6.0,"c":6.1,"v":3,"b":0.1,"r":48},
{"d":"2025-07-07","o":6.3,"h":6.4,"l":5.9,"c":6.1,"v":4,"b":0.1,"r":47},
{"d":"2025-07-08","o":6.1,"h":6.2,"l":5.95,"c":6.05,"v":3,"b":0.1,"r":49},
{"d":"2025-07-09","o":6.05,"h":6.25,"l":6.0,"c":6.2,"v":3,"b":0.1,"r":52},
{"d":"2025-07-10","o":6.3,"h":6.85,"l":6.25,"c":6.73,"v":4,"b":0.2,"r":54},
{"d":"2025-07-11","o":6.73,"h":6.85,"l":6.3,"c":6.4,"v":5,"b":0.1,"r":53},
{"d":"2025-07-12","o":6.4,"h":6.75,"l":6.3,"c":6.5,"v":3,"b":0.1,"r":51},
{"d":"2025-07-13","o":6.5,"h":6.6,"l":6.3,"c":6.45,"v":3,"b":0.1,"r":53},
{"d":"2025-07-14","o":6.5,"h":6.8,"l":6.3,"c":6.75,"v":4,"b":0.1,"r":55},
{"d":"2025-07-15","o":6.75,"h":6.95,"l":6.65,"c":6.9,"v":5,"b":0.1,"r":58},
{"d":"2025-07-16","o":6.9,"h":7.1,"l":6.8,"c":7.0,"v":5,"b":0.1,"r":60},
{"d":"2025-07-17","o":7.0,"h":7.4,"l":7.0,"c":7.2,"v":6,"b":0.1,"r":61},
{"d":"2025-07-18","o":7.2,"h":7.5,"l":7.15,"c":7.4,"v":7,"b":0.1,"r":62},
{"d":"2025-07-19","o":7.4,"h":7.5,"l":7.2,"c":7.3,"v":6,"b":0.1,"r":62},
{"d":"2025-07-20","o":7.25,"h":7.8,"l":7.1,"c":7.6,"v":8,"b":0.1,"r":66},
{"d":"2025-07-21","o":7.6,"h":8.0,"l":7.55,"c":7.75,"v":10,"b":0.2,"r":67},
{"d":"2025-07-22","o":7.75,"h":8.2,"l":7.7,"c":7.8,"v":8,"b":0.1,"r":66},
{"d":"2025-07-23","o":7.8,"h":7.9,"l":7.2,"c":7.75,"v":7,"b":-0.1,"r":53},
{"d":"2025-07-24","o":7.75,"h":7.95,"l":6.9,"c":6.95,"v":6,"b":-0.1,"r":50},
{"d":"2025-07-25","o":6.95,"h":7.2,"l":6.7,"c":6.75,"v":5,"b":-0.1,"r":50},
{"d":"2025-07-26","o":6.85,"h":7.0,"l":6.7,"c":6.8,"v":4,"b":-0.1,"r":50},
{"d":"2025-07-27","o":6.8,"h":7.1,"l":6.6,"c":6.75,"v":3,"b":-0.1,"r":52},
{"d":"2025-07-28","o":6.8,"h":7.5,"l":6.5,"c":7.25,"v":4,"b":0.1,"r":47},
{"d":"2025-07-29","o":7.25,"h":7.4,"l":6.9,"c":7.1,"v":4,"b":0.1,"r":46},
{"d":"2025-07-30","o":7.1,"h":7.2,"l":6.7,"c":6.8,"v":3,"b":-0.1,"r":45},
{"d":"2025-07-31","o":6.85,"h":7.0,"l":6.5,"c":6.58,"v":4,"b":-0.1,"r":40},
{"d":"2025-08-01","o":6.58,"h":6.7,"l":6.2,"c":6.25,"v":3,"b":-0.2,"r":38},
{"d":"2025-08-02","o":6.25,"h":6.3,"l":5.85,"c":6.0,"v":3,"b":-0.2,"r":36},
{"d":"2025-08-03","o":6.0,"h":6.05,"l":5.8,"c":5.88,"v":3,"b":-0.2,"r":42},
{"d":"2025-08-04","o":5.88,"h":6.15,"l":5.8,"c":6.0,"v":4,"b":-0.1,"r":46},
{"d":"2025-08-05","o":5.85,"h":6.2,"l":5.8,"c":6.12,"v":3,"b":-0.1,"r":43},
{"d":"2025-08-06","o":6.12,"h":6.55,"l":6.0,"c":6.5,"v":4,"b":-0.1,"r":45},
{"d":"2025-08-07","o":6.5,"h":6.65,"l":6.0,"c":6.2,"v":4,"b":0.1,"r":49},
{"d":"2025-08-08","o":6.1,"h":6.6,"l":6.0,"c":6.5,"v":4,"b":0.1,"r":52},
{"d":"2025-08-09","o":6.5,"h":6.95,"l":6.4,"c":6.85,"v":4,"b":0.1,"r":55},
{"d":"2025-08-10","o":6.85,"h":6.95,"l":6.7,"c":6.8,"v":5,"b":0.1,"r":55},
{"d":"2025-08-11","o":6.9,"h":7.0,"l":6.35,"c":6.55,"v":3,"b":0.1,"r":48},
{"d":"2025-08-12","o":6.9,"h":7.5,"l":6.2,"c":6.4,"v":4,"b":-0.1,"r":55},
{"d":"2025-08-13","o":6.4,"h":7.15,"l":6.3,"c":7.05,"v":4,"b":0.1,"r":57},
{"d":"2025-08-14","o":7.05,"h":7.3,"l":6.4,"c":6.6,"v":5,"b":0.1,"r":48},
{"d":"2025-08-15","o":6.6,"h":7.0,"l":6.35,"c":6.45,"v":3,"b":-0.1,"r":47},
{"d":"2025-08-16","o":6.45,"h":7.15,"l":6.4,"c":6.85,"v":3,"b":-0.1,"r":52},
{"d":"2025-08-17","o":6.85,"h":6.9,"l":6.7,"c":6.78,"v":3,"b":-0.1,"r":51},
{"d":"2025-08-18","o":6.73,"h":7.4,"l":6.3,"c":6.4,"v":3,"b":-0.1,"r":46},
{"d":"2025-08-19","o":6.4,"h":6.6,"l":6.1,"c":6.15,"v":5,"b":-0.2,"r":43},
{"d":"2025-08-20","o":6.15,"h":6.5,"l":6.0,"c":6.4,"v":4,"b":-0.1,"r":49},
{"d":"2025-08-21","o":6.4,"h":6.6,"l":6.1,"c":6.35,"v":3,"b":-0.1,"r":46},
{"d":"2025-08-22","o":6.35,"h":6.95,"l":6.2,"c":6.9,"v":3,"b":0.1,"r":53},
{"d":"2025-08-23","o":6.9,"h":7.15,"l":6.6,"c":6.75,"v":3,"b":0.1,"r":52},
{"d":"2025-08-24","o":6.75,"h":6.85,"l":6.55,"c":6.65,"v":3,"b":0.1,"r":46},
{"d":"2025-08-25","o":6.75,"h":7.0,"l":5.8,"c":5.9,"v":6,"b":0.1,"r":42},
{"d":"2025-08-26","o":5.9,"h":7.6,"l":5.8,"c":6.75,"v":15,"b":0.2,"r":55},
{"d":"2025-08-27","o":6.75,"h":8.2,"l":6.6,"c":7.75,"v":47,"b":0.4,"r":58},
{"d":"2025-08-28","o":6.75,"h":10.0,"l":6.7,"c":7.75,"v":32,"b":0.4,"r":60},
{"d":"2025-08-29","o":7.75,"h":8.4,"l":6.9,"c":6.95,"v":11,"b":0.2,"r":52},
{"d":"2025-08-30","o":6.95,"h":7.3,"l":6.8,"c":7.1,"v":6,"b":0.1,"r":53},
{"d":"2025-08-31","o":7.1,"h":7.2,"l":6.75,"c":7.0,"v":4,"b":0.1,"r":51},
{"d":"2025-09-01","o":6.85,"h":7.05,"l":6.4,"c":6.65,"v":5,"b":-0.1,"r":49},
{"d":"2025-09-02","o":6.65,"h":6.8,"l":6.5,"c":6.6,"v":4,"b":-0.1,"r":50},
{"d":"2025-09-03","o":6.65,"h":7.4,"l":6.5,"c":7.1,"v":4,"b":0.1,"r":53},
{"d":"2025-09-04","o":7.1,"h":7.3,"l":6.5,"c":6.65,"v":6,"b":0.1,"r":49},
{"d":"2025-09-05","o":6.85,"h":7.0,"l":6.6,"c":6.95,"v":4,"b":0.1,"r":51},
{"d":"2025-09-06","o":6.9,"h":7.4,"l":6.8,"c":7.0,"v":4,"b":0.1,"r":52},
{"d":"2025-09-07","o":7.0,"h":7.2,"l":6.85,"c":7.1,"v":3,"b":0.1,"r":53},
{"d":"2025-09-08","o":7.05,"h":7.3,"l":6.9,"c":7.2,"v":4,"b":0.1,"r":53},
{"d":"2025-09-09","o":7.2,"h":7.4,"l":6.9,"c":6.95,"v":4,"b":-0.1,"r":53},
{"d":"2025-09-10","o":7.0,"h":7.35,"l":6.9,"c":7.3,"v":4,"b":0.1,"r":53},
{"d":"2025-09-11","o":7.3,"h":7.5,"l":7.15,"c":7.4,"v":3,"b":0.1,"r":55},
{"d":"2025-09-12","o":7.4,"h":7.55,"l":7.3,"c":7.45,"v":3,"b":0.1,"r":57},
{"d":"2025-09-13","o":7.45,"h":7.55,"l":6.9,"c":6.95,"v":3,"b":0.1,"r":57},
{"d":"2025-09-14","o":6.95,"h":7.1,"l":6.7,"c":6.85,"v":3,"b":-0.1,"r":52},
{"d":"2025-09-15","o":6.85,"h":7.1,"l":6.6,"c":6.85,"v":3,"b":-0.1,"r":47},
{"d":"2025-09-16","o":6.85,"h":7.2,"l":6.7,"c":7.1,"v":3,"b":0.1,"r":47},
{"d":"2025-09-17","o":7.1,"h":7.3,"l":6.75,"c":6.85,"v":3,"b":0.1,"r":53},
{"d":"2025-09-18","o":6.8,"h":7.05,"l":6.7,"c":6.75,"v":3,"b":-0.1,"r":53},
{"d":"2025-09-19","o":6.9,"h":7.0,"l":6.65,"c":6.73,"v":3,"b":-0.1,"r":47},
{"d":"2025-09-20","o":6.73,"h":6.9,"l":6.5,"c":6.7,"v":3,"b":-0.1,"r":49},
{"d":"2025-09-21","o":6.73,"h":6.8,"l":6.2,"c":6.3,"v":5,"b":-0.1,"r":46},
{"d":"2025-09-22","o":6.3,"h":6.4,"l":6.1,"c":6.25,"v":4,"b":-0.2,"r":41},
{"d":"2025-09-23","o":6.25,"h":6.4,"l":6.05,"c":6.18,"v":4,"b":-0.1,"r":40},
{"d":"2025-09-24","o":6.18,"h":6.2,"l":5.75,"c":5.82,"v":4,"b":-0.2,"r":38},
{"d":"2025-09-25","o":5.82,"h":6.0,"l":5.7,"c":5.95,"v":3,"b":-0.2,"r":35},
{"d":"2025-09-26","o":5.95,"h":6.2,"l":5.8,"c":6.05,"v":3,"b":-0.1,"r":41},
{"d":"2025-09-27","o":6.05,"h":6.2,"l":5.9,"c":6.2,"v":3,"b":0.1,"r":39},
{"d":"2025-09-28","o":6.2,"h":6.35,"l":6.0,"c":6.25,"v":3,"b":0.1,"r":42},
{"d":"2025-09-29","o":6.25,"h":6.35,"l":5.95,"c":6.05,"v":4,"b":0.1,"r":41},
{"d":"2025-09-30","o":6.05,"h":6.55,"l":6.0,"c":6.5,"v":4,"b":0.1,"r":40},
{"d":"2025-10-01","o":6.5,"h":6.85,"l":6.45,"c":6.6,"v":5,"b":0.1,"r":49},
{"d":"2025-10-02","o":6.6,"h":6.85,"l":6.45,"c":6.7,"v":4,"b":0.1,"r":52},
{"d":"2025-10-03","o":6.7,"h":6.95,"l":6.4,"c":6.42,"v":4,"b":0.1,"r":52},
{"d":"2025-10-04","o":6.5,"h":6.8,"l":6.4,"c":6.75,"v":4,"b":0.1,"r":49},
{"d":"2025-10-05","o":6.4,"h":6.8,"l":6.3,"c":6.7,"v":3,"b":0.1,"r":48},
{"d":"2025-10-06","o":6.4,"h":6.85,"l":6.35,"c":6.73,"v":3,"b":0.1,"r":52},
{"d":"2025-10-07","o":6.73,"h":6.8,"l":6.3,"c":6.3,"v":4,"b":-0.1,"r":46},
{"d":"2025-10-08","o":6.6,"h":6.7,"l":6.2,"c":6.3,"v":3,"b":-0.1,"r":49},
{"d":"2025-10-09","o":6.3,"h":6.5,"l":6.2,"c":6.3,"v":4,"b":-0.1,"r":45},
{"d":"2025-10-10","o":6.3,"h":6.75,"l":2.29,"c":4.5,"v":12,"b":-0.6,"r":26.6},
{"d":"2025-10-11","o":4.5,"h":5.4,"l":4.5,"c":4.7,"v":12,"b":-0.5,"r":30},
{"d":"2025-10-12","o":4.7,"h":5.4,"l":4.55,"c":5.3,"v":8,"b":-0.4,"r":40},
{"d":"2025-10-13","o":5.3,"h":5.7,"l":5.15,"c":5.56,"v":5,"b":-0.3,"r":44},
{"d":"2025-10-14","o":5.56,"h":5.65,"l":5.1,"c":5.35,"v":4,"b":-0.2,"r":40},
{"d":"2025-10-15","o":5.35,"h":5.4,"l":4.9,"c":5.0,"v":3,"b":-0.2,"r":38},
{"d":"2025-10-16","o":5.0,"h":5.1,"l":4.75,"c":4.88,"v":3,"b":-0.1,"r":37},
{"d":"2025-10-17","o":4.88,"h":5.0,"l":4.75,"c":4.94,"v":3,"b":0.1,"r":36},
{"d":"2025-10-18","o":4.88,"h":5.15,"l":4.8,"c":5.1,"v":3,"b":0.1,"r":38},
{"d":"2025-10-19","o":4.94,"h":5.35,"l":4.9,"c":5.1,"v":3,"b":0.1,"r":41},
{"d":"2025-10-20","o":5.18,"h":5.3,"l":4.9,"c":4.94,"v":4,"b":0.1,"r":42},
{"d":"2025-10-21","o":5.18,"h":5.3,"l":4.85,"c":4.95,"v":3,"b":0.1,"r":39},
{"d":"2025-10-22","o":4.95,"h":5.1,"l":4.7,"c":4.8,"v":3,"b":0.1,"r":37},
{"d":"2025-10-23","o":4.8,"h":5.0,"l":4.75,"c":4.94,"v":4,"b":0.1,"r":41},
{"d":"2025-10-24","o":4.95,"h":5.45,"l":4.9,"c":5.18,"v":3,"b":0.1,"r":44},
{"d":"2025-10-25","o":5.18,"h":5.25,"l":5.0,"c":5.06,"v":3,"b":0.1,"r":43},
{"d":"2025-10-26","o":5.06,"h":5.4,"l":5.0,"c":5.22,"v":3,"b":0.1,"r":46},
{"d":"2025-10-27","o":5.1,"h":5.3,"l":5.0,"c":5.05,"v":3,"b":0.1,"r":43},
{"d":"2025-10-28","o":5.05,"h":5.15,"l":4.9,"c":5.0,"v":3,"b":0.1,"r":42},
{"d":"2025-10-29","o":5.0,"h":5.1,"l":4.6,"c":4.7,"v":3,"b":-0.1,"r":41},
{"d":"2025-10-30","o":4.9,"h":5.0,"l":4.4,"c":4.6,"v":3,"b":-0.1,"r":37},
{"d":"2025-10-31","o":4.6,"h":4.85,"l":4.55,"c":4.7,"v":3,"b":0.1,"r":38},
{"d":"2025-11-01","o":4.699,"h":6.1,"l":4.689,"c":5.485,"v":21,"b":0.1,"r":53}
],
"macd":[
{"d":"2024-10-02","m":-0.11,"s":0.62},{"d":"2024-10-04","m":-0.59,"s":0.07},{"d":"2024-10-08","m":-0.66,"s":-0.48},{"d":"2024-10-11","m":-0.95,"s":-0.84},{"d":"2024-10-14","m":-0.48,"s":-0.48},{"d":"2024-10-18","m":-0.4,"s":-0.4},{"d":"2024-10-20","m":0,"s":-0.15},{"d":"2024-10-24","m":-0.37,"s":-0.29},{"d":"2024-10-27","m":-0.95,"s":-0.84},{"d":"2024-10-31","m":-1.03,"s":-0.95},{"d":"2024-11-05","m":-1.76,"s":-1.58},{"d":"2024-11-09","m":-1.21,"s":-1.1},{"d":"2024-11-12","m":-0.11,"s":-0.29},{"d":"2024-11-15","m":-0.48,"s":-0.4},{"d":"2024-11-19","m":-0.48,"s":-0.48},{"d":"2024-11-22","m":-0.55,"s":-0.55},{"d":"2024-11-25","m":0.51,"s":0.44},{"d":"2024-11-28","m":1.54,"s":1.25},{"d":"2024-12-01","m":2.45,"s":2.2},{"d":"2024-12-04","m":3.19,"s":3.0},{"d":"2024-12-05","m":3.92,"s":3.44},{"d":"2024-12-07","m":5.49,"s":4.47},{"d":"2024-12-08","m":5.49,"s":4.65},{"d":"2024-12-10","m":3.0,"s":3.92},{"d":"2024-12-13","m":2.09,"s":2.82},{"d":"2024-12-16","m":1.17,"s":1.83},{"d":"2024-12-19","m":-0.48,"s":0.26},{"d":"2024-12-22","m":-1.32,"s":-0.66},{"d":"2024-12-25","m":1.61,"s":0.07},{"d":"2024-12-27","m":1.36,"s":1.06},{"d":"2024-12-31","m":0,"s":0.51},{"d":"2025-01-05","m":0.44,"s":0.44},{"d":"2025-01-09","m":-0.66,"s":-0.29},{"d":"2025-01-14","m":-1.47,"s":-1.47},{"d":"2025-01-17","m":-0.66,"s":-1.1},{"d":"2025-01-20","m":-1.58,"s":-1.39},{"d":"2025-01-25","m":-1.94,"s":-1.76},{"d":"2025-01-29","m":-2.31,"s":-2.12},{"d":"2025-02-01","m":-2.05,"s":-2.12},{"d":"2025-02-06","m":-3.41,"s":-3.11},{"d":"2025-02-12","m":-2.78,"s":-2.93},{"d":"2025-02-17","m":-2.2,"s":-2.31},{"d":"2025-02-25","m":-1.87,"s":-1.94},{"d":"2025-03-04","m":-1.58,"s":-1.68},{"d":"2025-03-11","m":-1.87,"s":-1.79},{"d":"2025-03-18","m":-1.14,"s":-1.21},{"d":"2025-03-26","m":-0.66,"s":-0.73},{"d":"2025-03-31","m":-1.03,"s":-0.99},{"d":"2025-04-08","m":-1.39,"s":-1.32},{"d":"2025-04-18","m":-0.84,"s":-0.92},{"d":"2025-04-21","m":-0.37,"s":-0.66},{"d":"2025-04-26","m":0.33,"s":0.18},{"d":"2025-05-02","m":0.15,"s":0.15},{"d":"2025-05-08","m":-0.11,"s":-0.04},{"d":"2025-05-11","m":0.51,"s":0.26},{"d":"2025-05-14","m":0.73,"s":0.59},{"d":"2025-05-19","m":0.37,"s":0.4},{"d":"2025-05-29","m":0.07,"s":0.15},{"d":"2025-05-31","m":1.9,"s":0.8},{"d":"2025-06-01","m":2.27,"s":1.43},{"d":"2025-06-03","m":1.98,"s":1.83},{"d":"2025-06-04","m":2.2,"s":1.9},{"d":"2025-06-07","m":1.17,"s":1.68},{"d":"2025-06-11","m":0.99,"s":1.17},{"d":"2025-06-16","m":0.15,"s":0.26},{"d":"2025-06-21","m":-0.66,"s":-0.48},{"d":"2025-06-23","m":-0.84,"s":-0.66},{"d":"2025-06-27","m":-0.66,"s":-0.66},{"d":"2025-06-30","m":-0.37,"s":-0.51},{"d":"2025-07-10","m":-0.22,"s":-0.18},{"d":"2025-07-22","m":0.7,"s":0.55},{"d":"2025-07-29","m":0.07,"s":0.15},{"d":"2025-08-03","m":-0.59,"s":-0.55},{"d":"2025-08-07","m":-0.37,"s":-0.37},{"d":"2025-08-12","m":0.07,"s":-0.04},{"d":"2025-08-20","m":-0.22,"s":-0.18},{"d":"2025-08-25","m":-0.22,"s":-0.18},{"d":"2025-08-28","m":0.33,"s":0.07},{"d":"2025-09-04","m":0.07,"s":0.15},{"d":"2025-09-13","m":0.26,"s":0.15},{"d":"2025-09-21","m":0,"s":0},{"d":"2025-09-27","m":-0.55,"s":-0.48},{"d":"2025-10-01","m":-0.55,"s":-0.4},{"d":"2025-10-06","m":-0.18,"s":-0.18},{"d":"2025-10-10","m":-0.18,"s":-0.29},{"d":"2025-10-12","m":-1.03,"s":-0.73},{"d":"2025-10-19","m":-0.92,"s":-0.92},{"d":"2025-10-27","m":-0.59,"s":-0.62},{"d":"2025-11-01","m":-0.55,"s":-0.62}
],
"ema":[
{"d":"2024-10-02","p":13.82},{"d":"2024-10-10","p":13.56},{"d":"2024-10-21","p":13.36},{"d":"2024-11-01","p":12.92},{"d":"2024-11-06","p":12.62},{"d":"2024-11-13","p":12.44},{"d":"2024-11-22","p":12.14},{"d":"2024-11-27","p":12.2},{"d":"2024-12-04","p":12.75},{"d":"2024-12-08","p":13.43},{"d":"2024-12-16","p":13.94},{"d":"2024-12-22","p":13.94},{"d":"2024-12-26","p":14.28},{"d":"2025-01-01","p":14.42},{"d":"2025-01-07","p":14.62},{"d":"2025-01-14","p":14.56},{"d":"2025-01-24","p":14.28},{"d":"2025-02-01","p":13.87},{"d":"2025-02-08","p":13.05},{"d":"2025-03-13","p":10.33},{"d":"2025-03-20","p":9.39},{"d":"2025-03-27","p":8.87},{"d":"2025-04-03","p":8.34},{"d":"2025-04-11","p":7.76},{"d":"2025-04-21","p":7.06},{"d":"2025-04-29","p":6.79},{"d":"2025-05-08","p":6.48},{"d":"2025-05-21","p":6.33},{"d":"2025-05-30","p":6.18},{"d":"2025-06-01","p":6.42},{"d":"2025-06-05","p":6.61},{"d":"2025-06-12","p":6.73},{"d":"2025-06-18","p":6.73},{"d":"2025-06-25","p":6.61},{"d":"2025-07-04","p":6.54},{"d":"2025-07-10","p":6.51},{"d":"2025-07-16","p":6.57},{"d":"2025-07-22","p":6.67},{"d":"2025-07-28","p":6.67},{"d":"2025-08-05","p":6.61},{"d":"2025-08-14","p":6.64},{"d":"2025-08-22","p":6.61},{"d":"2025-09-03","p":6.67},{"d":"2025-09-14","p":6.76},{"d":"2025-09-23","p":6.76},{"d":"2025-09-30","p":6.67},{"d":"2025-10-08","p":6.64},{"d":"2025-10-19","p":6.35},{"d":"2025-11-01","p":6.03}
],
"trend":[
{"seg":"upper","d":"2024-11-30T15:00:00Z","p":23.89},{"seg":"upper","d":"2025-12-22T22:00:00Z","p":4.94},
{"seg":"lower","d":"2025-01-16T19:00:00Z","p":3.14},{"seg":"lower","d":"2025-12-22T22:00:00Z","p":4.94},
{"seg":"shaft","d":"2025-11-14T05:00:00Z","p":5.72},{"seg":"shaft","d":"2025-12-01T00:00:00Z","p":10.43},
{"seg":"head","d":"2025-11-26T05:00:00Z","p":10.14},{"seg":"head","d":"2025-12-01T00:00:00Z","p":10.43},{"seg":"head","d":"2025-12-03T05:00:00Z","p":9.8}
],
"levels":[
{"level":10.436,"from":"2024-10-02","to":"2026-02-22T10:00:00Z","tagFrom":"2026-02-24T14:00:00Z","tagTo":"2026-03-14T03:00:00Z","textAt":"2026-02-26T12:00:00Z"},
{"level":9.155,"from":"2024-10-02","to":"2026-02-22T10:00:00Z","tagFrom":"2026-02-24T14:00:00Z","tagTo":"2026-03-12T08:00:00Z","textAt":"2026-02-26T12:00:00Z"},
{"level":8.149,"from":"2024-10-02","to":"2026-02-22T10:00:00Z","tagFrom":"2026-02-24T14:00:00Z","tagTo":"2026-03-12T08:00:00Z","textAt":"2026-02-26T12:00:00Z"},
{"level":7.442,"from":"2024-10-02","to":"2026-02-22T10:00:00Z","tagFrom":"2026-02-24T14:00:00Z","tagTo":"2026-03-12T08:00:00Z","textAt":"2026-02-26T12:00:00Z"},
{"level":6.735,"from":"2024-10-02","to":"2026-02-22T10:00:00Z","tagFrom":"2026-02-24T14:00:00Z","tagTo":"2026-03-12T08:00:00Z","textAt":"2026-02-26T12:00:00Z"}
],
"header":[
{"t":"Bithereum_io","col":0.15,"line":1,"kind":"strong"},
{"t":"published on TradingView.com, November 01, 2025 15:49:25 EST","col":13.8,"line":1,"kind":"plain"},
{"t":"BINANCE:LPTUSDT, 1D","col":0.15,"line":2,"kind":"strong"},
{"t":"5.485","col":22.8,"line":2,"kind":"plain"},
{"t":"▲","col":28.7,"line":2,"kind":"teal"},
{"t":"+0.785 (+16.7%)","col":30.8,"line":2,"kind":"plain"},
{"t":"O:","col":46.8,"line":2,"kind":"strong"},
{"t":"4.699","col":49.2,"line":2,"kind":"teal"},
{"t":"H:","col":55.2,"line":2,"kind":"strong"},
{"t":"6.100","col":57.7,"line":2,"kind":"teal"},
{"t":"L:","col":63.7,"line":2,"kind":"strong"},
{"t":"4.689","col":65.4,"line":2,"kind":"teal"},
{"t":"C:","col":71.5,"line":2,"kind":"strong"},
{"t":"5.485","col":73.5,"line":2,"kind":"teal"}
]
},
"vconcat":[
{"width":1464,"height":43,"data":{"name":"header"},
 "encoding":{
  "x":{"field":"col","type":"quantitative","scale":{"domain":[0,244],"nice":false},"axis":null},
  "y":{"field":"line","type":"ordinal","scale":{"padding":0.76},"axis":null},
  "text":{"field":"t"},
  "color":{"field":"kind","type":"nominal","scale":{"domain":["strong","plain","teal"],"range":["#d1d4dc","#b2b5be","#22ab94"]},"legend":null}
 },
 "layer":[
  {"transform":[{"filter":"datum.kind!='strong'"}],"mark":{"type":"text","align":"left","fontSize":12.2}},
  {"transform":[{"filter":"datum.kind=='strong'"}],"mark":{"type":"text","align":"left","fontSize":11.8,"fontWeight":700}}
 ]
},
{"width":1464,"height":102,"view":{"fill":"#000000","stroke":null},
 "encoding":{"x":{"field":"d","type":"temporal","scale":{"type":"utc","domain":["2024-10-01T07:00:00Z","2026-03-20T17:00:00Z"],"nice":false,"padding":0},"axis":{"labels":false,"ticks":false,"domain":true,"domainColor":"#2a2e39","title":null}}},
 "layer":[
  {"data":{"name":"daily"},
   "transform":[{"window":[{"op":"lag","field":"b","as":"pb"}]}],
   "mark":{"type":"bar","size":1.6},
   "encoding":{
    "y":{"field":"b","type":"quantitative","scale":{"domain":[-4.5,6.75],"nice":false,"zero":false},"axis":{"orient":"right","offset":-67,"values":[4,0],"format":".3f","labelPadding":8,"domain":true,"domainColor":"#2a2e39"}},
    "y2":{"datum":0},
    "color":{"condition":[
      {"test":"datum.b>=0 && datum.b>=datum.pb","value":"#26a69a"},
      {"test":"datum.b>=0","value":"#b2dfdb"},
      {"test":"datum.b<datum.pb","value":"#ff5252"}],
      "value":"#ffcdd2"}
   }},
  {"data":{"name":"macd"},"mark":{"type":"line","color":"#2962ff","strokeWidth":1.5,"interpolate":"monotone"},
   "encoding":{"y":{"field":"m","type":"quantitative"}}},
  {"data":{"name":"macd"},"mark":{"type":"line","color":"#ff6d00","strokeWidth":1.5,"interpolate":"monotone"},
   "encoding":{"y":{"field":"s","type":"quantitative"}}},
  {"data":{"values":[{"d":"2024-10-05","v":4.84,"t":"MACD"}]},"mark":{"type":"text","align":"left","color":"#b2b5be","fontSize":12.5},
   "encoding":{"y":{"field":"v","type":"quantitative"},"text":{"field":"t"}}},
  {"data":{"values":[{"d":"2026-02-27T12:00:00Z","v":-4,"t":"−4.000"}]},"mark":{"type":"text","align":"left","color":"#b2b5be","clip":true},
   "encoding":{"y":{"field":"v","type":"quantitative"},"text":{"field":"t"}}}
 ]
},
{"width":1464,"height":533,"view":{"fill":"#000000","stroke":null},
 "encoding":{"x":{"field":"d","type":"temporal","scale":{"type":"utc","domain":["2024-10-01T07:00:00Z","2026-03-20T17:00:00Z"],"nice":false,"padding":0},"axis":{"labels":false,"ticks":false,"domain":true,"domainColor":"#2a2e39","title":null}}},
 "resolve":{"scale":{"y":"independent"}},
 "layer":[
  {"data":{"name":"daily"},"mark":{"type":"rule","strokeWidth":1.2},
   "encoding":{
    "y":{"field":"v","type":"quantitative","scale":{"domain":[0,533],"nice":false},"axis":null},
    "y2":{"datum":0},
    "color":{"condition":{"test":"datum.c>=datum.o","value":"#145f55"},"value":"#7a2226"}
   }},
  {"layer":[
   {"data":{"values":[{"d":"2025-06-14","p":9.03,"t":"LPTUSDT, 1D"}]},"mark":{"type":"text","fontSize":84,"color":"#191b20","font":"Noto Sans"},
    "encoding":{"y":{"field":"p","type":"quantitative","scale":{"type":"log","domain":[2.274,28.76],"nice":false},"axis":{"orient":"right","offset":-67,"values":[24,20,17,14,12,10,8.5,7,6,4.2,3.6,3.1,2.65],"format":".3f","labelPadding":8,"domain":true,"domainColor":"#2a2e39"}},"text":{"field":"t"}}},
   {"data":{"values":[{"d":"2025-06-14","p":6.67,"t":"LPT / TetherUS"}]},"mark":{"type":"text","fontSize":37,"color":"#191b20","font":"Noto Sans"},
    "encoding":{"y":{"field":"p","type":"quantitative"},"text":{"field":"t"}}},
   {"data":{"name":"daily"},"mark":{"type":"rule","strokeWidth":1},
    "encoding":{"y":{"field":"l","type":"quantitative"},"y2":{"field":"h"},
     "color":{"condition":{"test":"datum.c>=datum.o","value":"#4caf50"},"value":"#801922"}}},
   {"data":{"name":"daily"},"mark":{"type":"bar","size":2.6},
    "encoding":{"y":{"field":"o","type":"quantitative"},"y2":{"field":"c"},
     "color":{"condition":{"test":"datum.c>=datum.o","value":"#4caf50"},"value":"#801922"}}},
   {"data":{"name":"ema"},"mark":{"type":"line","color":"#2962ff","strokeWidth":2},
    "encoding":{"y":{"field":"p","type":"quantitative"}}},
   {"data":{"values":[{"d":"2024-10-02","to":"2026-02-24T05:00:00Z","p":5.485}]},"mark":{"type":"rule","color":"#4caf50","strokeWidth":1,"strokeDash":[1,3]},
    "encoding":{"y":{"field":"p","type":"quantitative"},"x2":{"field":"to"}}},
   {"data":{"name":"levels"},"mark":{"type":"rule","color":"#ffeb3b","strokeWidth":1.5,"strokeDash":[6,5]},
    "encoding":{"x":{"field":"from","type":"temporal"},"x2":{"field":"to"},"y":{"field":"level","type":"quantitative"}}},
   {"data":{"name":"trend"},"mark":{"type":"line","color":"#ffeb3b","strokeWidth":2},
    "encoding":{"y":{"field":"p","type":"quantitative"},"detail":{"field":"seg"}}},
   {"data":{"name":"levels"},"mark":{"type":"rule","color":"#ffeb3b","strokeWidth":17},
    "encoding":{"x":{"field":"tagFrom","type":"temporal"},"x2":{"field":"tagTo"},"y":{"field":"level","type":"quantitative"}}},
   {"data":{"name":"levels"},"mark":{"type":"text","align":"left","color":"#131722","fontSize":12.5},
    "encoding":{"x":{"field":"textAt","type":"temporal"},"y":{"field":"level","type":"quantitative"},"text":{"field":"level","type":"quantitative","format":".3f"}}},
   {"data":{"values":[{"d":"2026-02-24T14:00:00Z","to":"2026-03-18T12:00:00Z","top":5.67,"bot":4.92}]},"mark":{"type":"rect","color":"#4caf50","cornerRadius":2},
    "encoding":{"x2":{"field":"to"},"y":{"field":"top","type":"quantitative"},"y2":{"field":"bot"}}},
   {"data":{"values":[{"d":"2026-02-26T12:00:00Z","p":5.485,"t":"5.485"}]},"mark":{"type":"text","align":"left","color":"#ffffff","fontSize":12.5,"fontWeight":700},
    "encoding":{"y":{"field":"p","type":"quantitative"},"text":{"field":"t"}}},
   {"data":{"values":[{"d":"2026-02-26T12:00:00Z","p":5.11,"t":"03:10:44"}]},"mark":{"type":"text","align":"left","color":"#d5ecd6","fontSize":12},
    "encoding":{"y":{"field":"p","type":"quantitative"},"text":{"field":"t"}}},
   {"data":{"values":[{"d":"2026-02-25T17:00:00Z","to":"2026-03-18T22:00:00Z","top":28.2,"bot":24.9}]},"mark":{"type":"rect","fill":"#131313","stroke":"#363a45","strokeWidth":1.5,"cornerRadius":5},
    "encoding":{"x2":{"field":"to"},"y":{"field":"top","type":"quantitative"},"y2":{"field":"bot"}}},
   {"data":{"values":[{"d":"2026-02-28T00:00:00Z","p":26.5,"t":"USDT"}]},"mark":{"type":"text","align":"left","color":"#d1d4dc","fontSize":12.5},
    "encoding":{"y":{"field":"p","type":"quantitative"},"text":{"field":"t"}}},
   {"data":{"values":[{"d":"2024-10-05","p":26.65,"t":"LPT / TetherUS · 1D · Binance"},{"d":"2024-10-05","p":24.6,"t":"EMA"},{"d":"2024-10-05","p":22.7,"t":"Vol · LPT"}]},"mark":{"type":"text","align":"left","color":"#b2b5be","fontSize":12.5},
    "encoding":{"y":{"field":"p","type":"quantitative"},"text":{"field":"t"}}}
  ]}
 ]
},
{"width":1464,"height":141,"view":{"fill":"#000000","stroke":null},
 "encoding":{"x":{"field":"d","type":"temporal","scale":{"type":"utc","domain":["2024-10-01T07:00:00Z","2026-03-20T17:00:00Z"],"nice":false,"padding":0},"axis":{"labels":false,"ticks":false,"domain":true,"domainColor":"#2a2e39","title":null}}},
 "layer":[
  {"data":{"values":[{"d":"2024-10-02","to":"2026-02-24T05:00:00Z","lo":30,"hi":70}]},"mark":{"type":"rect","color":"#7e57c2","opacity":0.09},
   "encoding":{"x2":{"field":"to"},"y":{"field":"lo","type":"quantitative","scale":{"type":"log","domain":[19.8,100],"nice":false},"axis":{"orient":"right","offset":-67,"values":[60,40,25],"format":".2f","labelPadding":8,"domain":true,"domainColor":"#2a2e39"}},"y2":{"field":"hi"}}},
  {"data":{"values":[{"d":"2024-10-02","to":"2026-02-22T10:00:00Z","band":70},{"d":"2024-10-02","to":"2026-02-22T10:00:00Z","band":50},{"d":"2024-10-02","to":"2026-02-22T10:00:00Z","band":30}]},"mark":{"type":"rule","strokeWidth":1,"strokeDash":[5,5]},
   "encoding":{"x2":{"field":"to"},"y":{"field":"band","type":"quantitative"},"color":{"condition":{"test":"datum.band==50","value":"#55575f"},"value":"#787b86"}}},
  {"data":{"name":"daily"},"transform":[{"filter":"datum.r>=72 && datum.v<30"}],"mark":{"type":"area","color":"#1d4a27"},
   "encoding":{"y":{"field":"r","type":"quantitative"},"y2":{"datum":70}}},
  {"data":{"name":"daily"},"mark":{"type":"line","color":"#7e57c2","strokeWidth":1.1},
   "encoding":{"y":{"field":"r","type":"quantitative"}}},
  {"data":{"values":[{"d":"2024-10-05","r":82,"t":"RSI"}]},"mark":{"type":"text","align":"left","color":"#b2b5be","fontSize":12.5},
   "encoding":{"y":{"field":"r","type":"quantitative"},"text":{"field":"t"}}},
  {"data":{"values":[{"d":"2026-02-27T12:00:00Z","r":99,"t":"100.00"}]},"mark":{"type":"text","align":"left","color":"#b2b5be","clip":true},
   "encoding":{"y":{"field":"r","type":"quantitative"},"text":{"field":"t"}}}
 ]
},
{"width":1464,"height":28,"view":{"fill":"#000000","stroke":null},
 "data":{"values":[{"d":"2026-02-24T05:00:00Z"}]},
 "mark":{"type":"rule","color":"#2a2e39"},
 "encoding":{"x":{"field":"d","type":"temporal","scale":{"type":"utc","domain":["2024-10-01T07:00:00Z","2026-03-20T17:00:00Z"],"nice":false,"padding":0},
  "axis":{"domain":false,"ticks":false,"title":null,"grid":false,"tickCount":"month","labelPadding":-21,"labelOffset":-0.5,"labelOverlap":false,"labelFlush":false,
   "labelExpr":"+datum.value>1771000000000?'':(utcmonth(datum.value)==0?utcFormat(datum.value,'%Y'):utcFormat(datum.value,'%b'))",
   "labelFontWeight":{"condition":{"test":"utcmonth(datum.value)==0","value":700},"value":400}}}}
},
{"width":1464,"height":36,
 "data":{"values":[{"name":"logo","col":1.75},{"name":"TradingView","col":4.5}]},
 "encoding":{"x":{"field":"col","type":"quantitative","scale":{"domain":[0,244],"nice":false},"axis":null}},
 "layer":[
  {"transform":[{"filter":"datum.name=='logo'"}],"mark":{"type":"point","filled":true,"opacity":1,"color":"#d1d4dc","size":400,"shape":"M-1,-.6H-.28V.6H-.62V-.1H-1ZM.3,.6L.68,-.6H1.1L.72,.6ZM-.05,-.32a.2,.2 0 1,0 .01,0Z"}},
  {"transform":[{"filter":"datum.name=='TradingView'"}],"mark":{"type":"text","align":"left","color":"#d1d4dc","fontSize":15.5,"fontWeight":600},"encoding":{"text":{"field":"name"}}}
 ]
}
]
}
